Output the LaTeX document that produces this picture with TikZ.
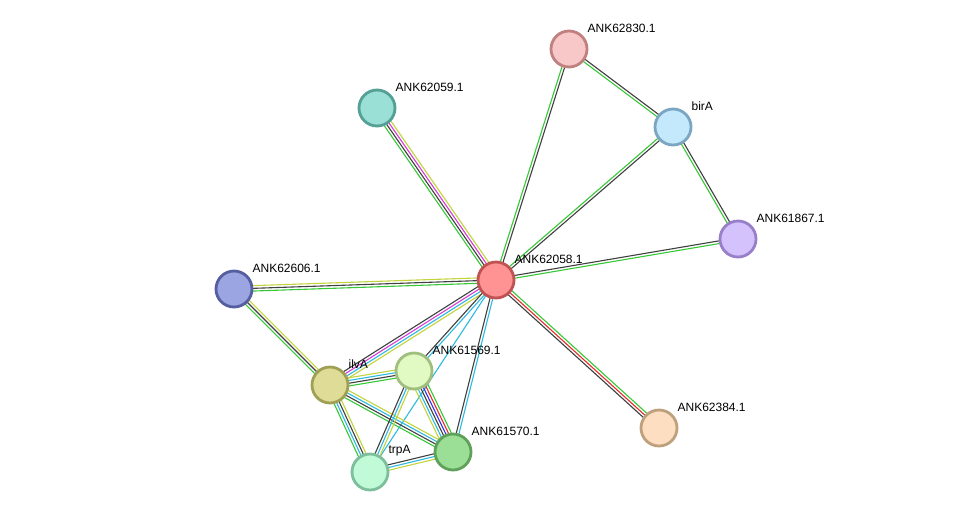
\documentclass[tikz,border=0pt]{standalone}
\usepackage{fontspec}
\setmainfont{Liberation Sans}
\usetikzlibrary{calc,backgrounds}
\usepackage{xcolor}
% evidence colours
\definecolor{cgreen}{RGB}{55,200,55}
\definecolor{cblack}{RGB}{64,64,64}
\definecolor{cmagenta}{RGB}{215,60,215}
\definecolor{ccyan}{RGB}{45,185,225}
\definecolor{ctext}{RGB}{195,212,60}
\definecolor{cred}{RGB}{230,45,45}
\definecolor{cblue}{RGB}{50,50,230}
% protein colours (border, fill)
\definecolor{b62058}{RGB}{192,82,82}    \definecolor{f62058}{RGB}{255,146,146}
\definecolor{b62830}{RGB}{192,128,128}  \definecolor{f62830}{RGB}{248,200,200}
\definecolor{bbirA}{RGB}{122,166,194}   \definecolor{fbirA}{RGB}{196,232,252}
\definecolor{b61867}{RGB}{152,128,200}  \definecolor{f61867}{RGB}{212,194,252}
\definecolor{b62059}{RGB}{85,160,150}   \definecolor{f62059}{RGB}{154,224,214}
\definecolor{b62606}{RGB}{85,95,160}    \definecolor{f62606}{RGB}{155,165,225}
\definecolor{bilvA}{RGB}{160,160,85}    \definecolor{filvA}{RGB}{222,220,150}
\definecolor{b61569}{RGB}{160,190,125}  \definecolor{f61569}{RGB}{225,250,195}
\definecolor{b61570}{RGB}{95,160,90}    \definecolor{f61570}{RGB}{155,222,150}
\definecolor{btrpA}{RGB}{125,190,155}   \definecolor{ftrpA}{RGB}{192,250,215}
\definecolor{b62384}{RGB}{190,160,125}  \definecolor{f62384}{RGB}{253,222,192}

% one parallel line per colour, from #1 to #2
\newcommand{\ppilink}[3]{%
  \foreach \c [count=\i] in {#3} {\xdef\nlines{\i}}%
  \foreach \c [count=\i] in {#3} {%
    \pgfmathsetmacro\off{(\i-(\nlines+1)/2)*2.7}%
    \draw[edge,draw=\c] ($(#1)!\off pt!90:(#2)$) -- ($(#2)!\off pt!-90:(#1)$);
  }%
}

\begin{document}
\begin{tikzpicture}[
x=1pt,y=-1pt,
prot/.style={circle,draw=b#1,fill=f#1,line width=2.8pt,minimum size=36pt,inner sep=0pt},
lbl/.style={anchor=west,inner sep=0pt,xshift=-1pt,yshift=21pt,font=\fontsize{12}{14}\selectfont},
edge/.style={line width=1.1pt}
]
\useasboundingbox (0,0) rectangle (976,517);

\node[prot=62058,label={[lbl]0:ANK62058.1}] (n62058) at (496,280) {};
\node[prot=62830,label={[lbl]0:ANK62830.1}] (n62830) at (569,49) {};
\node[prot=birA,label={[lbl]0:birA}] (birA) at (673,127) {};
\node[prot=61867,label={[lbl]0:ANK61867.1}] (n61867) at (738,239) {};
\node[prot=62059,label={[lbl]0:ANK62059.1}] (n62059) at (377,108) {};
\node[prot=62606,label={[lbl]0:ANK62606.1}] (n62606) at (234,289) {};
\node[prot=ilvA,label={[lbl]0:ilvA}] (ilvA) at (330,385) {};
\node[prot=61569,label={[lbl]0:ANK61569.1}] (n61569) at (414,371) {};
\node[prot=61570,label={[lbl]0:ANK61570.1}] (n61570) at (453,452) {};
\node[prot=trpA,label={[lbl]0:trpA}] (trpA) at (370,472) {};
\node[prot=62384,label={[lbl]0:ANK62384.1}] (n62384) at (659,428) {};

\begin{pgfonlayer}{background}
\fill[white] (0,0) rectangle (976,517);
\ppilink{n62058}{n62830}{cblack,cgreen}
\ppilink{n62830}{birA}{cgreen,cblack}
\ppilink{n62058}{birA}{cblack,cgreen}
\ppilink{birA}{n61867}{cgreen,cblack}
\ppilink{n62058}{n61867}{cgreen,cblack}
\ppilink{n62059}{n62058}{cgreen,cblack,cmagenta,ctext}
\ppilink{n62058}{n62384}{cblack,cred,cgreen}
\ppilink{n62606}{n62058}{cgreen,cblack,ctext}
\ppilink{n62606}{ilvA}{cgreen,cblack,ctext}
\ppilink{ilvA}{n62058}{ctext,ccyan,cmagenta,cblack}
\ppilink{n61569}{n62058}{ccyan,cblack}
\ppilink{n61570}{n62058}{ccyan,cblack}
\ppilink{trpA}{n62058}{ccyan}
\ppilink{ilvA}{n61569}{cgreen,cblack,ccyan,ctext}
\ppilink{ilvA}{n61570}{cgreen,cblack,ccyan,ctext}
\ppilink{ilvA}{trpA}{cgreen,ccyan,cblack,ctext}
\ppilink{n61569}{n61570}{ctext,ccyan,cblack,cblue,cred,cgreen}
\ppilink{trpA}{n61569}{ctext,ccyan,cblack}
\ppilink{trpA}{n61570}{ctext,ccyan,cblack}
\end{pgfonlayer}
\end{tikzpicture}
\end{document}
